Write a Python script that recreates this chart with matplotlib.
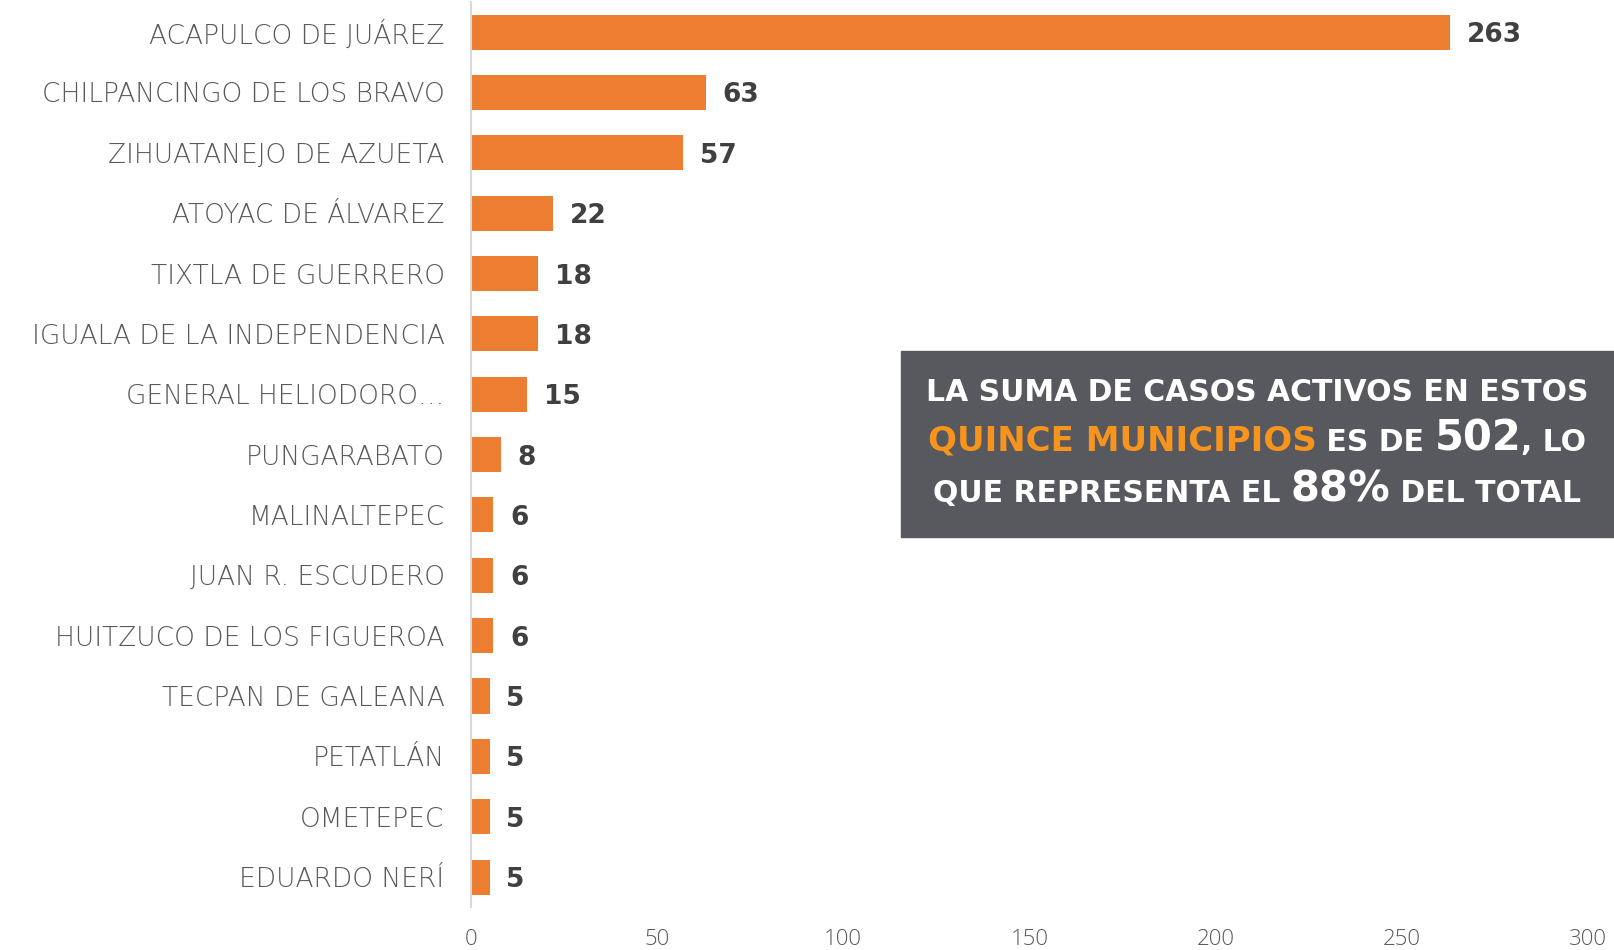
import numpy as np
import matplotlib
matplotlib.use("Agg")
import matplotlib.pyplot as plt

municipios = ["ACAPULCO DE JUÁREZ", "CHILPANCINGO DE LOS BRAVO", "ZIHUATANEJO DE AZUETA",
              "ATOYAC DE ÁLVAREZ", "TIXTLA DE GUERRERO", "IGUALA DE LA INDEPENDENCIA",
              "GENERAL HELIODORO…", "PUNGARABATO", "MALINALTEPEC", "JUAN R. ESCUDERO",
              "HUITZUCO DE LOS FIGUEROA", "TECPAN DE GALEANA", "PETATLÁN", "OMETEPEC",
              "EDUARDO NERÍ"]
casos = [263, 63, 57, 22, 18, 18, 15, 8, 6, 6, 6, 5, 5, 5, 5]
ticks = [0, 50, 100, 150, 200, 250, 300]

# texto del recuadro: (texto, color, tamaño)
lineas = [
    [("LA SUMA DE CASOS ACTIVOS EN ESTOS", "white", 21.5)],
    [("QUINCE MUNICIPIOS", "#F7941D", 24.5), (" ES DE ", "white", 21.5),
     ("502", "white", 30), (", LO", "white", 21.5)],
    [("QUE REPRESENTA EL ", "white", 21.5), ("88%", "white", 30), (" DEL TOTAL", "white", 21.5)],
]

plt.rcParams['font.family'] = ['DejaVu Sans']

fig = plt.figure(figsize=(16.14, 9.5), dpi=100)
ax = fig.add_axes([0.2918, 0.045, 0.692, 0.953])

y = np.arange(len(casos))
ax.barh(y, casos, height=0.58, color="#ED7D31")
ax.set_ylim(len(casos) - 0.5, -0.5)
ax.set_xlim(0, 300)
ax.set_yticks(y)
ax.set_yticklabels(municipios, fontsize=19, color="#595959", fontweight="light")
ax.set_xticks(ticks)
ax.set_xticklabels([str(t) for t in ticks], fontsize=16, color="#595959",
                   fontfamily="Open Sans", fontweight="light")
ax.tick_params(axis="y", length=0, pad=19)
ax.tick_params(axis="x", length=0, pad=16)
for s in ["top", "right", "bottom"]:
    ax.spines[s].set_visible(False)
ax.spines["left"].set_color("#d9d9d9")
ax.spines["left"].set_linewidth(1.5)

for yi, v in zip(y, casos):
    ax.text(v + 4.5, yi + 0.05, str(v), va="center", ha="left", fontsize=19,
            fontweight="bold", color="#404040")

# recuadro gris
fig.patches.append(plt.Rectangle((901 / 1614, 1 - 537 / 950), (1614 - 901) / 1614, 186 / 950,
                                 transform=fig.transFigure, color="#58595E", zorder=5))

renderer = fig.canvas.get_renderer()
cx = 1257
for ly, partes in zip([391, 441, 492], lineas):
    objs = []
    for txt, col, fs in partes:
        t = fig.text(0, 0, txt, color=col, fontsize=fs, fontweight="bold",
                     va="baseline", ha="left", zorder=6)
        objs.append(t)
    anchos = [t.get_window_extent(renderer).width for t in objs]
    x = cx - sum(anchos) / 2
    base = 950 - ly - 10
    for t, w in zip(objs, anchos):
        t.set_position((x / 1614, base / 950))
        x += w

fig.savefig("out.png", dpi=100)
